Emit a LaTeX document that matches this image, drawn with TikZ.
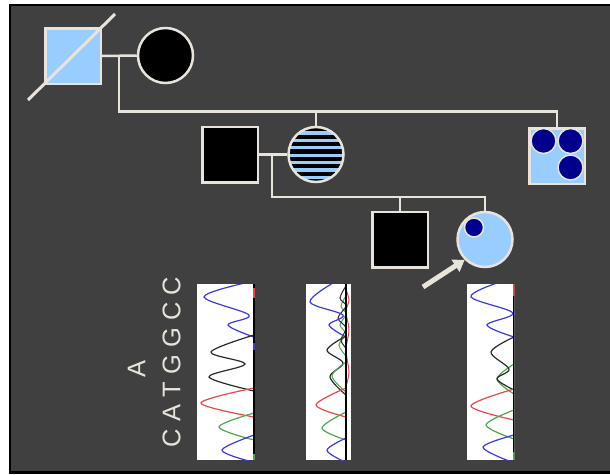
\documentclass[tikz,border=0pt]{standalone}
\usepackage{fontspec}
\newfontfamily\seqfont{Liberation Sans}
\usetikzlibrary{arrows.meta}
\definecolor{bgray}{HTML}{404040}
\definecolor{linec}{HTML}{E8E4DC}
\definecolor{lblue}{HTML}{99CCFF}
\definecolor{dblue}{HTML}{00008C}
\definecolor{trblue}{HTML}{3A3AE0}
\definecolor{trblack}{HTML}{2A2A2A}
\definecolor{trred}{HTML}{E84848}
\definecolor{trgreen}{HTML}{4CA84C}
\tikzset{
  ped/.style={draw=linec, line width=2.5pt},
  sqsym/.style={rectangle, draw=linec, line width=2.5pt, minimum size=55.5pt, inner sep=0pt},
  cisym/.style={circle, draw=linec, line width=2.5pt, minimum size=55pt, inner sep=0pt},
  dot/.style={circle, draw=linec, line width=1.5pt, fill=dblue, inner sep=0pt},
  trace/.style={line width=1.2pt, smooth, tension=0.55},
  chrom/.style={fill=white},
  seqtext/.style={rotate=90, text=linec, inner sep=0pt, font=\seqfont\fontsize{25.5}{25.5}\selectfont},
}
\begin{document}
\begin{tikzpicture}[x=1pt, y=-1pt]
\useasboundingbox (0,0) rectangle (610,474);
% frame
\fill[white] (0,0) rectangle (610,474);
\fill[black] (9,4) rectangle (610,474);
\fill[bgray] (11,6) rectangle (610,471);

% generation I
\node[sqsym, fill=lblue] (gf) at (73,56) {};
\draw[linec, line width=3pt] (28,100) -- (115,14);
\node[cisym, fill=black] (gm) at (165.5,55.5) {};
\draw[ped] (gf.east) -- (gm.west);

% generation II
\node[sqsym, fill=black] (fa) at (230,154.5) {};
\begin{scope}
  \clip (316,154.5) circle[radius=28pt];
  \fill[black] (286,124) rectangle (346,186);
  \foreach \k in {131.4,138.8,146.2,153.6,161,168.4,175.8,183.2} {
    \fill[lblue] (286,\k) rectangle (346,\k+3.1);
  }
\end{scope}
\node[cisym] (mo) at (316,154.5) {};
\node[sqsym, fill=lblue] (au) at (557,156) {};
\node[dot, minimum size=25pt] (au1) at (543.5,141) {};
\node[dot, minimum size=25pt] (au2) at (570.5,141) {};
\node[dot, minimum size=25pt] (au3) at (570.5,167.5) {};

\coordinate (c1) at (119,56);
\coordinate (s1) at (316,111.5);
\draw[ped] (c1) |- (s1) -| (au.north);
\draw[ped] (s1) -- (mo.north);
\draw[ped] (fa.east) -- (mo.west);

% generation III
\node[sqsym, fill=black] (so) at (400,239.5) {};
\node[cisym, fill=lblue] (pb) at (485,239.5) {};
\node[dot, minimum size=19pt] (pbd) at (474,227.5) {};
\coordinate (c2) at (272,154.5);
\coordinate (s2) at (400,197);
\draw[ped] (c2) |- (s2) -| (pb.north);
\draw[ped] (s2) -- (so.north);

% proband arrow
\coordinate (ar) at (423,287);
\draw[linec, line width=5pt, -{Triangle[length=11pt, width=14pt]}] (ar) -- (pb.south west);

% sequence labels
\node[seqtext] (seq) at (171.5,362) {C A T G G C C};
\node[seqtext] (alt) at (136.5,369) {A};

% chromatogram 1
\fill[chrom] (197,284) rectangle (255,460);
\begin{scope}
  \clip (197,284) rectangle (255,460);
  \draw[trace, trblue] plot coordinates {(245,283) (204,297) (249,315) (228,325) (254,337)};
  \draw[trace, trblack] plot coordinates {(254,335) (211,352) (245,364) (209,377) (254,391)};
  \draw[trace, trred] plot coordinates {(254,388) (201,403) (254,417)};
  \draw[trace, trgreen] plot coordinates {(254,413) (219,427) (254,440)};
  \draw[trace, trblue] plot coordinates {(254,435) (222,450) (249,461)};
  \draw[black, line width=1.5pt] (254,284) -- (254,460);
  \draw[trred, line width=1.8pt] (254,288) -- (254,298);
  \draw[trblue, line width=1.8pt] (254,343) -- (254,350);
  \draw[trgreen, line width=1.8pt] (254,454) -- (254,460);
\end{scope}

% chromatogram 2
\fill[chrom] (306,284) rectangle (351,460);
\begin{scope}
  \clip (306,284) rectangle (351,460);
  \draw[trace, trgreen, line width=1pt] plot coordinates {(346,296) (341,306) (346,314) (340,325) (346,334) (339,345) (346,356)};
  \draw[trace, trblack, line width=1pt] plot coordinates {(346,286) (340,298) (346,306) (338,318) (346,328) (341,340) (346,348)};
  \draw[trace, trblue] plot coordinates {(333,283) (310,302) (343,315) (329,325) (346,337)};
  \draw[trace, trblack] plot coordinates {(346,336) (327,350) (343,363) (330,377) (346,395)};
  \draw[trace, trgreen, line width=1pt] plot coordinates {(346,362) (332,376) (346,392)};
  \draw[trace, trred] plot coordinates {(346,388) (316,405) (346,417)};
  \draw[trace, trgreen] plot coordinates {(346,412) (322,428) (346,440)};
  \draw[trace, trblue] plot coordinates {(346,438) (327,450) (343,461)};
  \draw[trace, trred, line width=1pt] plot coordinates {(346,290) (349,300) (346,312) (349,330) (346,350) (349,372) (346,386)};
  \draw[black, line width=2pt] (346,284) -- (346,460);
\end{scope}

% chromatogram 3
\fill[chrom] (467,284) rectangle (514.5,460);
\begin{scope}
  \clip (467,284) rectangle (514.5,460);
  \draw[trace, trblue] plot coordinates {(497,283) (471,297) (513,313) (487,325) (514,337)};
  \draw[trace, trgreen] plot coordinates {(514,364) (497,379) (514,394)};
  \draw[trace, trblack] plot coordinates {(514,337) (491,352) (509,369) (497,379) (514,390)};
  \draw[trace, trred] plot coordinates {(514,389) (471,406) (514,420)};
  \draw[trace, trgreen] plot coordinates {(514,410) (486,425) (514,439)};
  \draw[trace, trblue] plot coordinates {(514,435) (483,447) (509,461)};
  \draw[black, line width=1.5pt] (514,284) -- (514,460);
  \draw[trred, line width=1.8pt] (514,284) -- (514,296);
  \draw[trgreen, line width=1.8pt] (514,452) -- (514,460);
\end{scope}
\end{tikzpicture}
\end{document}
